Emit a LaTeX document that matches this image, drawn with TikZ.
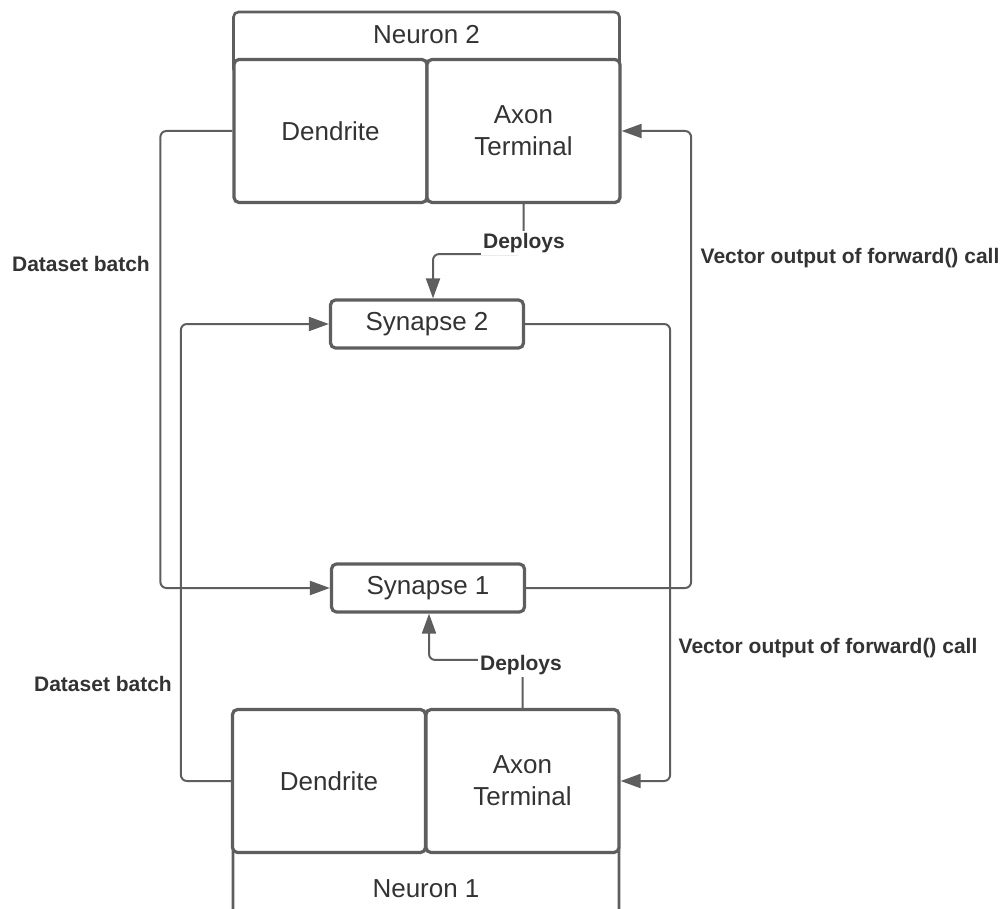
\documentclass[tikz,border=0pt]{standalone}
\usepackage{fontspec}
\setmainfont{Liberation Sans}
\usetikzlibrary{positioning, calc, arrows.meta}
\definecolor{linegray}{HTML}{5E5E5E}
\definecolor{textgray}{HTML}{333333}

\begin{document}
\begin{tikzpicture}
		[x=1pt, y=-1pt,
		 part/.style = {draw=linegray, line width=3.2pt, rectangle, rounded corners=5pt, fill=white, text=textgray, align=center, minimum width=193pt, minimum height=143pt, font=\fontsize{26}{32}\selectfont},
		 head/.style = {part, line width=2.6pt, minimum width=386pt},
		 syn/.style = {part, minimum height=48pt},
		 conn/.style = {draw=linegray, line width=2pt, rounded corners=6pt},
		 arr/.style = {conn, -{Triangle[length=20pt, width=14pt]}},
		 lbl/.style = {text=textgray, font=\bfseries\fontsize{21}{25}\selectfont},
		 dep/.style = {lbl, fill=white, inner sep=2pt}]
		\useasboundingbox (0,0) rectangle (1006,909);
		\clip (0,0) rectangle (1006,909);

		% neuron 2
		\node[head, minimum height=62pt, text depth=18pt] (head2) at (426.5,43) {Neuron 2};
		\node[part] (dend2) at (330.5,131) {Dendrite};
		\node[part] (axon2) at (523.5,131) {Axon\\Terminal};

		% synapses
		\node[syn] (syn2) at (427,324) {Synapse 2};
		\node[syn] (syn1) at (428,588) {Synapse 1};

		% neuron 1
		\node[head, minimum height=80pt, text height=29pt] (head1) at (426,883) {Neuron 1};
		\node[part] (dend1) at (329,781) {Dendrite};
		\node[part] (axon1) at (522.5,781) {Axon\\Terminal};

		\draw[arr] (dend2.west) -- ++(-72,0) |- (syn1.west);
		\draw[arr] (dend1.west) -- ++(-50,0) |- (syn2.west);
		\draw[arr] (syn2.east) -- ++(145,0) |- (axon1.east);
		\draw[arr] (syn1.east) -- ++(165,0) |- (axon2.east);
		\draw[arr] (axon2.south) -- ++(0,50) -| ([xshift=6pt]syn2.north);
		\draw[arr] (axon1.north) -- ++(0,-48) -| ([xshift=1pt]syn1.south);

		\node[dep] (deploy2) at (524,243) {Deploys};
		\node[dep] (deploy1) at (521,665) {Deploys};
		\node[lbl] (batch2) at (81,264) {Dataset batch};
		\node[lbl] (batch1) at (103,684) {Dataset batch};
		\node[lbl] (vec2) at (850,258) {Vector output of forward() call};
		\node[lbl] (vec1) at (828,648) {Vector output of forward() call};
	\end{tikzpicture}
\end{document}
